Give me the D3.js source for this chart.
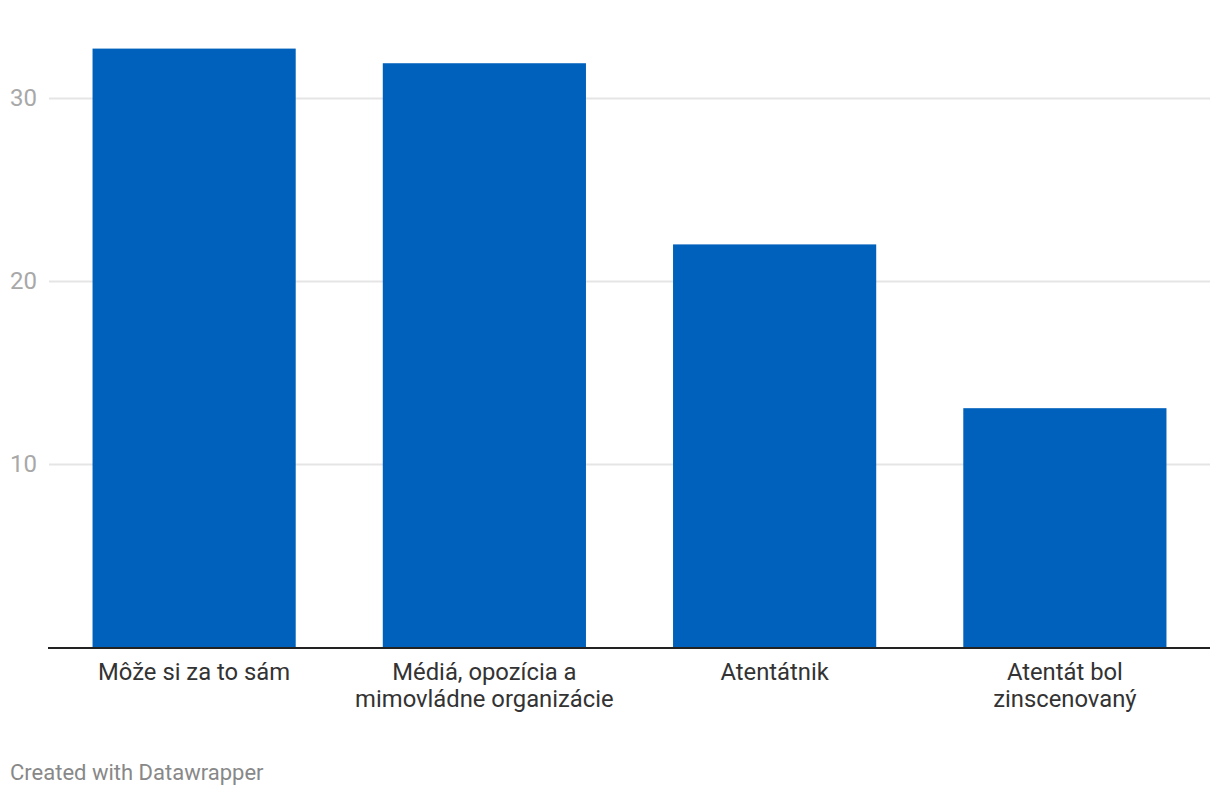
<!DOCTYPE html>
<html><head><meta charset="utf-8">
<script src="https://cdn.jsdelivr.net/npm/d3@7"></script>
<style>body{margin:0;background:#fff;font-family:Roboto,sans-serif;}</style>
</head><body>
<svg id="c" width="1220" height="796"></svg>
<script>
const categories = [["Môže si za to sám"], ["Médiá, opozícia a", "mimovládne organizácie"], ["Atentátnik"], ["Atentát bol", "zinscenovaný"]];
const values = [32.7, 31.9, 22.0, 13.05];
const yTicks = [10, 20, 30];

const svg = d3.select("#c");
const x = d3.scaleBand().domain(d3.range(values.length)).range([49, 1210]).paddingInner(0.3).paddingOuter(0.15);
const y = d3.scaleLinear().domain([0, 30]).range([647, 98]);

svg.append("g").selectAll("line").data(yTicks).join("line")
  .attr("x1", 49).attr("x2", 1210).attr("y1", d => y(d)+0.5).attr("y2", d => y(d)+0.5)
  .attr("stroke", "#e5e5e5").attr("stroke-width", 2);
svg.append("g").selectAll("text").data(yTicks).join("text")
  .attr("x", 37).attr("y", d => y(d)).attr("dy", "0.35em").attr("text-anchor", "end")
  .attr("fill", "#a8a8a8").attr("font-size", 24).text(d => d);

svg.append("g").selectAll("rect").data(values).join("rect")
  .attr("x", (d,i) => x(i)).attr("width", x.bandwidth())
  .attr("y", d => y(d)).attr("height", d => y(0) - y(d)).attr("fill", "#0061bc");

svg.append("line").attr("x1", 48).attr("x2", 1210).attr("y1", 648).attr("y2", 648)
  .attr("stroke", "#222").attr("stroke-width", 2);

const lab = svg.append("g").selectAll("text").data(categories).join("text")
  .attr("text-anchor", "middle").attr("fill", "#333").attr("font-size", 23.8)
  .attr("transform", (d,i) => `translate(${x(i)+x.bandwidth()/2},680)`);
lab.selectAll("tspan").data(d => d).join("tspan").attr("x", 0).attr("dy", (d,i) => i ? 27 : 0).text(d => d);

svg.append("text").attr("x", 10).attr("y", 780).attr("fill", "#888").attr("font-size", 22).text("Created with Datawrapper");
</script>
</body></html>
